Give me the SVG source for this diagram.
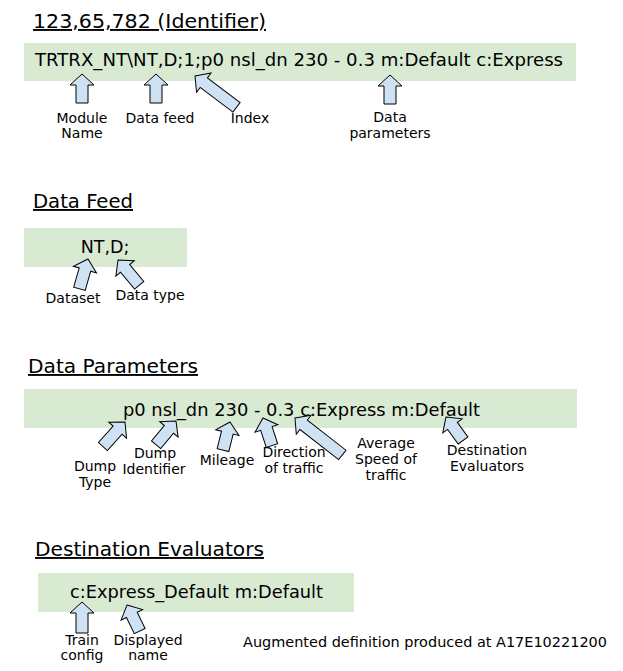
<svg xmlns="http://www.w3.org/2000/svg" width="623" height="671" viewBox="0 0 623 671">
<style>
text{font-family:"DejaVu Sans","Verdana",sans-serif;fill:#000}
.title{font-size:19px;text-decoration:underline}
.code{font-size:17.5px}
.lbl{font-size:14px;text-anchor:middle}
.box{fill:#d9ead3}
.arr{fill:#cfe2f3;stroke:#000;stroke-width:1;stroke-linejoin:miter}
</style>
<defs>
<path id="a29" d="M0,0 L12,11 L6,11 L6,29 L-6,29 L-6,11 L-12,11 Z"/>
<path id="a31" d="M0,0 L12,11 L6,11 L6,31 L-6,31 L-6,11 L-12,11 Z"/>
<path id="a33" d="M0,0 L12,11 L6,11 L6,33 L-6,33 L-6,11 L-12,11 Z"/>
<path id="a53" d="M0,0 L12,11 L6,11 L6,52 L-6,52 L-6,11 L-12,11 Z"/>
<path id="a60" d="M0,0 L12,11 L6,11 L6,60 L-6,60 L-6,11 L-12,11 Z"/>
</defs>

<g id="identifier">
<text class="title" x="33" y="28" textLength="233" lengthAdjust="spacingAndGlyphs">123,65,782 (Identifier)</text>
<rect class="box" x="24" y="43" width="552" height="38"/>
<text class="code" x="35" y="66" textLength="528" lengthAdjust="spacingAndGlyphs">TRTRX_NT\NT,D;1;p0 nsl_dn 230 - 0.3 m:Default c:Express</text>
</g>
<g id="lbl-module"><text class="lbl" x="82" y="123">Module</text><text class="lbl" x="82" y="138">Name</text></g>
<g id="lbl-datafeed"><text class="lbl" x="160" y="123">Data feed</text></g>
<g id="lbl-index"><text class="lbl" x="250" y="123">Index</text></g>
<g id="lbl-dataparams"><text class="lbl" x="390" y="122">Data</text><text class="lbl" x="390" y="138">parameters</text></g>

<g id="datafeed">
<text class="title" x="33" y="208" textLength="100" lengthAdjust="spacingAndGlyphs">Data Feed</text>
<rect class="box" x="24" y="228" width="163" height="39"/>
<text class="code" x="105" y="253" text-anchor="middle">NT,D;</text>
</g>
<g id="lbl-dataset"><text class="lbl" x="73" y="303">Dataset</text></g>
<g id="lbl-datatype"><text class="lbl" x="150" y="300">Data type</text></g>

<g id="dataparameters">
<text class="title" x="28" y="373" textLength="170" lengthAdjust="spacingAndGlyphs">Data Parameters</text>
<rect class="box" x="24" y="389" width="553" height="39"/>
<text class="code" x="123" y="416" textLength="357" lengthAdjust="spacingAndGlyphs">p0 nsl_dn 230 - 0.3 c:Express m:Default</text>
</g>
<g id="lbl-dumptype"><text class="lbl" x="95" y="471">Dump</text><text class="lbl" x="95" y="487">Type</text></g>
<g id="lbl-dumpid"><text class="lbl" x="155" y="458">Dump</text><text class="lbl" x="154" y="474">Identifier</text></g>
<g id="lbl-mileage"><text class="lbl" x="227" y="465">Mileage</text></g>
<g id="lbl-direction"><text class="lbl" x="294" y="457">Direction</text><text class="lbl" x="294" y="473">of traffic</text></g>
<g id="lbl-speed"><text class="lbl" x="386" y="448">Average</text><text class="lbl" x="386" y="464">Speed of</text><text class="lbl" x="386" y="480">traffic</text></g>
<g id="lbl-desteval"><text class="lbl" x="487" y="455">Destination</text><text class="lbl" x="487" y="471">Evaluators</text></g>

<g id="destinationevaluators">
<text class="title" x="35" y="556" textLength="229" lengthAdjust="spacingAndGlyphs">Destination Evaluators</text>
<rect class="box" x="38" y="573" width="316" height="39"/>
<text class="code" x="70" y="598" textLength="253" lengthAdjust="spacingAndGlyphs">c:Express_Default m:Default</text>
</g>
<g id="lbl-train"><text class="lbl" x="82" y="645">Train</text><text class="lbl" x="82" y="660">config</text></g>
<g id="lbl-displayed"><text class="lbl" x="148" y="645">Displayed</text><text class="lbl" x="148" y="660">name</text></g>
<g id="note"><text x="243" y="647" font-size="13.5" textLength="364" lengthAdjust="spacingAndGlyphs">Augmented definition produced at A17E10221200</text></g>

<g id="connectors">
<use href="#a29" class="arr" transform="translate(82,74)"/>
<use href="#a29" class="arr" transform="translate(156,74)"/>
<use href="#a53" class="arr" transform="translate(195,76) rotate(-53)"/>
<use href="#a29" class="arr" transform="translate(390,75)"/>
<use href="#a31" class="arr" transform="translate(88,259) rotate(16)"/>
<use href="#a33" class="arr" transform="translate(118,260) rotate(-40)"/>
<use href="#a33" class="arr" transform="translate(125,422) rotate(42)"/>
<use href="#a31" class="arr" transform="translate(176,421) rotate(40)"/>
<use href="#a29" class="arr" transform="translate(230,422) rotate(14)"/>
<use href="#a29" class="arr" transform="translate(263,418) rotate(-18)"/>
<use href="#a60" class="arr" transform="translate(295,418) rotate(-52)"/>
<use href="#a29" class="arr" transform="translate(446,417) rotate(-36)"/>
<use href="#a31" class="arr" transform="translate(82,602)"/>
<use href="#a29" class="arr" transform="translate(127,605) rotate(-26)"/>
</g>
</svg>
